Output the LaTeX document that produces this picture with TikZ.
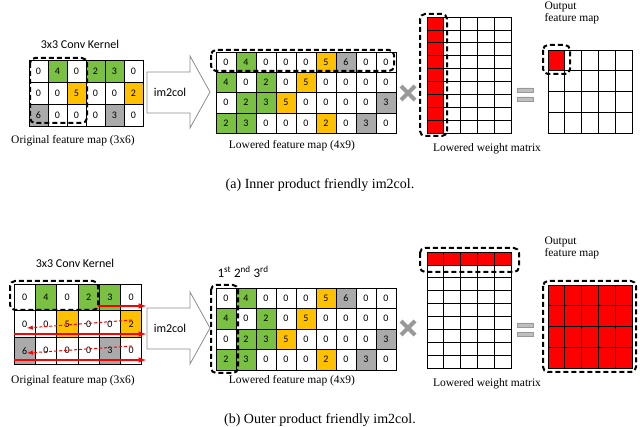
\documentclass[tikz,border=0pt]{standalone}
\usepackage{fontspec}
\setmainfont{Liberation Serif}
\newfontfamily\carl{Carlito}
\begin{document}
\definecolor{W}{RGB}{255,255,255}
\definecolor{G}{RGB}{122,192,67}
\definecolor{O}{RGB}{255,192,0}
\definecolor{K}{RGB}{170,170,170}
\definecolor{R}{RGB}{255,0,0}
\begin{tikzpicture}[x=1pt,y=-1pt,
 cell/.style={draw=black,line width=0.7pt,inner sep=0pt,font=\carl\fontsize{10}{10}\selectfont},
 dbox/.style={draw=black,line width=2pt,dash pattern=on 5pt off 3pt,rounded corners=5pt},
 lbl/.style={font=\fontsize{11.5}{12}\selectfont},
 ttl/.style={font=\carl\fontsize{12}{12}\selectfont},
 captxt/.style={font=\fontsize{14}{14}\selectfont},
 hollow/.style={draw=black!45,line width=0.8pt,fill=white},
 sym/.style={draw=black!40,line width=4pt},
 redarr/.style={draw=R,line width=1.5pt,-latex},
 redd/.style={draw=R,line width=1pt,dash pattern=on 3pt off 2pt,-latex}]
\useasboundingbox (0,0) rectangle (640,427);
% ---------- generic map drawer via loops ----------
\newcommand\mymap[6]{% x0 y0 cw ch prefix rows
 \foreach \rw [count=\r from 0] in {#6}{
  \foreach \v/\c [count=\k from 0] in \rw{
   \node[cell,fill=\c,minimum width=#3,minimum height=#4] (#5-\r-\k) at ({#1+(\k+0.5)*#3},{#2+(\r+0.5)*#4}) {\v};
  }}}
\newcommand\mygrid[8]{% x0 y0 cw ch cols rows prefix fillcond
 \foreach \r in {1,...,#6}{\foreach \k in {1,...,#5}{
   \pgfmathtruncatemacro\f{#8}
   \ifnum\f=1 \def\cc{R}\else\def\cc{W}\fi
   \node[cell,fill=\cc,minimum width=#3,minimum height=#4] (#7-\r-\k) at ({#1+(\k-0.5)*#3},{#2+(\r-0.5)*#4}) {};
 }}}
% ================= (a) =================
\node[ttl] (ka) at (80,44) {3x3 Conv Kernel};
\mymap{29}{60}{19}{22}{oa}{{0/W,4/G,0/W,2/G,3/G,0/W},{0/W,0/W,5/O,0/W,0/W,2/O},{6/K,0/W,0/W,0/W,3/K,0/W}}
\draw[dbox] (30,58) rectangle (87,123);
\node[lbl] (la1) at (73,141) {Original feature map (3x6)};
\draw[hollow] (147,72)--(190,72)--(190,56)--(210,92)--(190,128)--(190,113)--(147,113)--cycle;
\node[ttl] (ia) at (170,92) {im2col};
\mymap{216}{52}{20}{20.3}{la}{{0/W,4/G,0/W,0/W,0/W,5/O,6/K,0/W,0/W},{4/G,0/W,2/G,0/W,5/O,0/W,0/W,0/W,0/W},{0/W,2/G,3/G,5/O,0/W,0/W,0/W,0/W,3/K},{2/G,3/G,0/W,0/W,0/W,2/O,0/W,3/K,0/W}}
\draw[dbox] (211,50) rectangle (394,71);
\node[lbl] (la2) at (292,146) {Lowered feature map (4x9)};
\draw[sym] (401,86)--(415,100) (401,100)--(415,86);
\mygrid{427}{17}{16.8}{12.9}{5}{9}{wa}{\k==1}
\draw[dbox] (420,14) rectangle (447,136);
\node[lbl] (la3) at (487,149) {Lowered weight matrix};
\draw[draw=black!40,fill=black!25] (517,88) rectangle (533,92) (517,97) rectangle (533,101);
\mygrid{548}{50}{16.8}{20.8}{5}{4}{pa}{(\k==1)&&(\r==1)}
\draw[dbox] (543,45) rectangle (570,74);
\node[lbl,align=left,anchor=north west] (oa) at (541,-2) {Output\\feature map};
\node[captxt] (ca) at (320,185) {(a) Inner product friendly im2col.};
% ================= (b) =================
\node[ttl] (kb) at (75,263) {3x3 Conv Kernel};
\mymap{14}{284}{21.3}{26.7}{ob}{{0/W,4/G,0/W,2/G,3/G,0/W},{0/W,0/W,5/O,0/W,0/W,2/O},{6/K,0/W,0/W,0/W,3/K,0/W}}
\draw[dbox] (10,281) rectangle (98,310);
\coordinate (r1a) at (98,306); \coordinate (r1b) at (146,306);
\coordinate (d1a) at (132,320); \coordinate (d1b) at (27,328);
\coordinate (r2a) at (14,334); \coordinate (r2b) at (146,334);
\coordinate (d2a) at (132,346); \coordinate (d2b) at (27,353);
\coordinate (r3a) at (14,360); \coordinate (r3b) at (146,360);
\draw[redarr] (r1a)--(r1b);
\draw[redd] (d1a)--(d1b);
\draw[redarr] (r2a)--(r2b);
\draw[redd] (d2a)--(d2b);
\draw[redarr] (r3a)--(r3b);
\node[lbl] (lb1) at (73,381) {Original feature map (3x6)};
\draw[hollow] (147,308)--(190,308)--(190,292)--(210,328)--(190,364)--(190,349)--(147,349)--cycle;
\node[ttl] (ib) at (170,328) {im2col};
\mymap{216}{288}{20}{20.5}{lb}{{0/W,4/G,0/W,0/W,0/W,5/O,6/K,0/W,0/W},{4/G,0/W,2/G,0/W,5/O,0/W,0/W,0/W,0/W},{0/W,2/G,3/G,5/O,0/W,0/W,0/W,0/W,3/K},{2/G,3/G,0/W,0/W,0/W,2/O,0/W,3/K,0/W}}
\draw[dbox] (211,285) rectangle (238,373);
\node[font=\carl\fontsize{13}{13}\selectfont,anchor=west] (ord) at (214,272) {1\textsuperscript{st} 2\textsuperscript{nd} 3\textsuperscript{rd}};
\node[lbl] (lb2) at (292,381) {Lowered feature map (4x9)};
\draw[sym] (401,321)--(415,335) (401,335)--(415,321);
\mygrid{427}{252}{16.8}{12.9}{5}{9}{wb}{\r==1}
\draw[dbox] (420,248) rectangle (519,272);
\node[lbl] (lb3) at (487,384) {Lowered weight matrix};
\draw[draw=black!40,fill=black!25] (517,323) rectangle (533,327) (517,332) rectangle (533,336);
\mygrid{548}{285}{16.8}{20.8}{5}{4}{pb}{1}
\draw[dbox] (543,281) rectangle (636,372);
\node[lbl,align=left,anchor=north west] (ob) at (541,233) {Output\\feature map};
\node[captxt] (cb) at (320,420) {(b) Outer product friendly im2col.};
\end{tikzpicture}
\end{document}
